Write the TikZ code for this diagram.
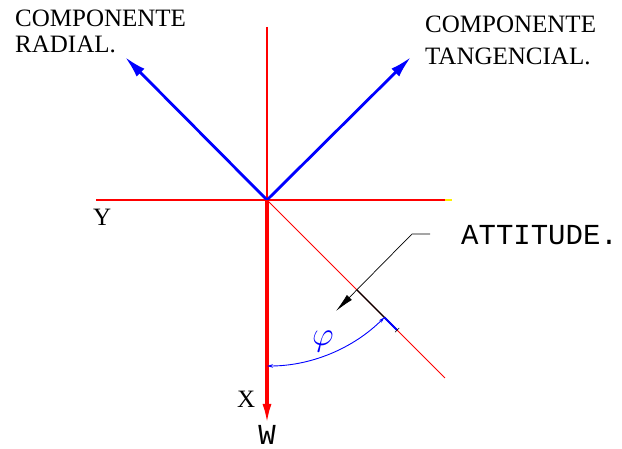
\documentclass[tikz,border=0pt]{standalone}
\usepackage{fontspec}
\setmainfont{Liberation Serif}
\newfontfamily\cadfont{Liberation Mono}
\usetikzlibrary{arrows.meta,calc}
\definecolor{pureblue}{RGB}{0,0,255}
\definecolor{purered}{RGB}{255,0,0}
\definecolor{axyellow}{RGB}{255,240,0}
\tikzset{
  axisline/.style={draw=purered, line width=1.4pt},
  compvec/.style={draw=pureblue, line width=2.8pt, -{Latex[length=22pt,width=11pt]}},
  loadvec/.style={draw=purered, line width=3.2pt, -{Latex[length=20pt,width=9pt]}},
  serlabel/.style={font=\fontsize{25}{28}\selectfont, inner sep=0pt, anchor=base west},
  cadlabel/.style={font=\cadfont\fontsize{29}{32}\selectfont, inner sep=0pt},
  dimline/.style={draw=pureblue, line width=0.9pt},
}
\begin{document}
\begin{tikzpicture}[x=1pt,y=1pt]
\useasboundingbox (0,0) rectangle (622,449);
\coordinate (O) at (267,249);
\coordinate (Vtop) at (267,422);
\coordinate (Wtip) at (267,25);
\coordinate (Hleft) at (96,249);
\coordinate (Hright) at (445,249);
\coordinate (Hyel) at (452,249);
\coordinate (Dend) at (445,71);
\coordinate (RA) at (125,392);
\coordinate (TA) at (411,392);
\coordinate (Bk1) at (357,159);
\coordinate (Bk2) at (397,119);
\coordinate (L1) at (430,215);
\coordinate (L2) at (412,215);
\coordinate (Ltip) at (336,138);
\coordinate (ArcS) at (267,83);
\coordinate (ArcE) at ($(O)+(-45:166)$);
\coordinate (TickE) at ($(O)+(-45:184)$);

% axes
\draw[axisline] (Vtop) -- (O);
\draw[axisline] (Hleft) -- (Hright);
\draw[draw=axyellow, line width=1.4pt] (Hright) -- (Hyel);
\draw[draw=purered, line width=1pt] (O) -- (Dend);

% attitude segment
\draw[black, line width=1.2pt] (Bk1) -- (Bk2);

% leader
\draw[black, line width=0.7pt, -{Latex[length=19pt,width=7pt]}] (L1) -- (L2) -- (Ltip);

% vectors
\draw[compvec] (O) -- (RA);
\draw[compvec] (O) -- (TA);
\draw[loadvec] (O) -- (Wtip);

% angle
\draw[dimline, {Stealth[length=6pt,width=3.5pt]}-{Stealth[length=6pt,width=3.5pt]}] (ArcS) arc[start angle=270, end angle=315, radius=166];
\draw[draw=pureblue, line width=2pt] (ArcE) -- (TickE);
\draw[black, line width=0.6pt] ($(TickE)+(45:3)$) -- ($(TickE)+(225:3)$);

% labels
\node[serlabel] (rad1) at (15,422) {COMPONENTE};
\node[serlabel] (rad2) at (15,396) {RADIAL.};
\node[serlabel] (tan1) at (425,416) {COMPONENTE};
\node[serlabel] (tan2) at (425,384) {TANGENCIAL.};
\node[serlabel] (ylab) at (93,223) {Y};
\node[serlabel] (xlab) at (237,41) {X};
\node[cadlabel, anchor=base west] (att) at (461,204) {ATTITUDE.};
\node[cadlabel, anchor=base] (wlab) at (267,4) {W};
\node[text=pureblue, inner sep=0pt, font=\fontsize{24}{26}\selectfont] (phi) at (323,107) {\scalebox{1.35}{$\varphi$}};
\end{tikzpicture}
\end{document}
